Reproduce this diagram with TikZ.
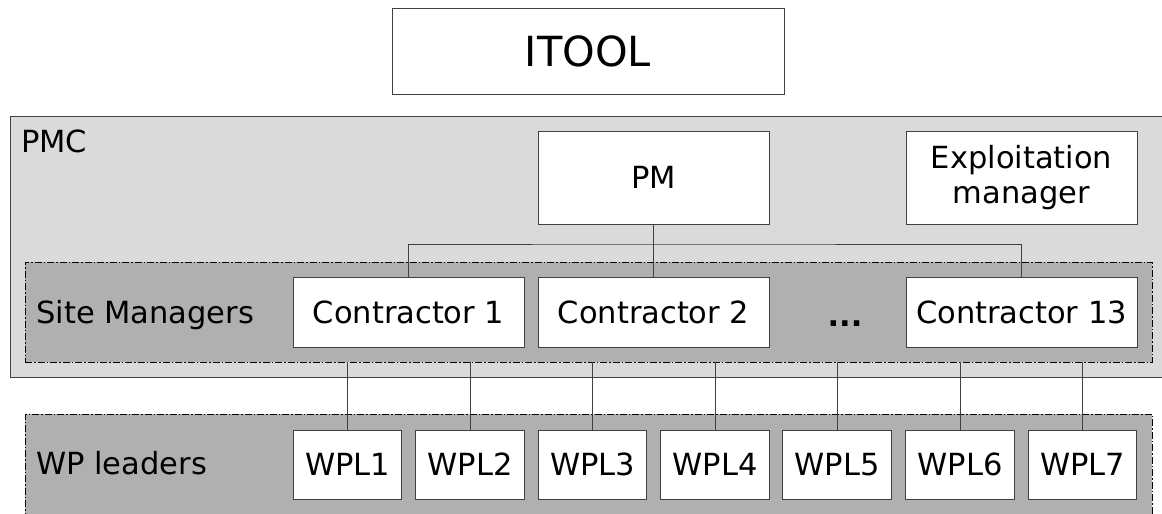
\documentclass[tikz,border=0pt]{standalone}
\usepackage{fontspec}
\setmainfont{DejaVu Sans}
\definecolor{pmcfill}{RGB}{218,218,218}
\definecolor{grpfill}{RGB}{176,176,176}
\definecolor{edge}{RGB}{64,64,64}
\tikzset{
  box/.style={draw=edge, line width=1pt, fill=white, inner sep=0pt,
    font=\fontsize{30.5}{35}\selectfont, align=center},
  group/.style={draw=black, line width=0.9pt, fill=grpfill, inner sep=0pt,
    dash pattern=on 7pt off 2pt on 1.5pt off 2pt},
  lbl/.style={anchor=base west, inner sep=0pt, font=\fontsize{30.5}{35}\selectfont},
  link/.style={draw=edge, line width=1pt}
}
\begin{document}
\begin{tikzpicture}[x=1pt, y=-1pt]
\useasboundingbox (0,0) rectangle (1162,514);
\clip (0,0) rectangle (1162,514);

% top level tool
\node[box, minimum width=392pt, minimum height=86pt,
  font=\fontsize{41.5}{45}\selectfont] (itool) at (588,51) {ITOOL};

% PMC container
\node[draw=edge, line width=1pt, fill=pmcfill, inner sep=0pt,
  minimum width=1160pt, minimum height=261pt] (pmc) at (590,246.5) {};
\node[lbl] (pmclbl) at (21,152) {PMC};

\node[box, minimum width=231pt, minimum height=93pt] (pm) at (653.5,177.5) {PM};
\node[box, minimum width=231pt, minimum height=93pt] (expl) at (1021.5,177.5)
  {Exploitation\\manager};

% site managers group
\node[group, minimum width=1127pt, minimum height=100pt] (sm) at (588.5,312) {};
\node[lbl] (smlbl) at (36,323) {Site Managers};
\node[box, minimum width=231pt, minimum height=70pt] (c1) at (408.5,312) {Contractor 1};
\node[box, minimum width=231pt, minimum height=70pt] (c2) at (653.5,312) {Contractor 2};
\node[lbl, anchor=base, font=\fontsize{30.5}{35}\selectfont\bfseries] (dots) at (845,326) {...};
\node[box, minimum width=231pt, minimum height=70pt] (c13) at (1021.5,312) {Contractor 13};

% work package leaders group
\node[group, minimum width=1127pt, minimum height=110pt] (wp) at (588.5,469) {};
\node[lbl] (wplbl) at (36,474) {WP leaders};
\foreach \i/\x in {1/347.5, 2/470, 3/592.5, 4/715, 5/837, 6/960, 7/1082.5}
  \node[box, minimum width=108.5pt, minimum height=69pt] (wpl\i) at (\x,464.5) {WPL\i};

% reporting lines
\coordinate (bus) at (653.5,244);
\draw[link] (c1.north) |- (bus) -| (c13.north);
\draw[link] (pm.south) -- (c2.north);
\foreach \i in {1,...,7}
  \draw[link] (wpl\i.north) -- (wpl\i.north |- sm.south);
\end{tikzpicture}
\end{document}
